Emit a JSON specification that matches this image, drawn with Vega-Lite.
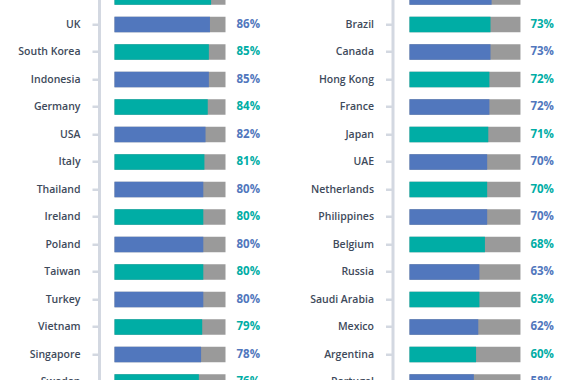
{
  "$schema": "https://vega.github.io/schema/vega-lite/v6.json",
  "background": "#ffffff",
  "padding": {"left": 17, "top": -16.75, "right": 0, "bottom": 0},
  "config": {
    "view": {"stroke": null},
    "axisY": {
      "domainColor": "#d3d8e1", "domainWidth": 3, "tickColor": "#d3d8e1", "tickWidth": 2.5, "tickSize": 7,
      "labelPadding": 12, "labelFontSize": 10.5, "labelColor": "#3e4a5b", "labelFont": "Open Sans", "labelFontWeight": 600,
      "title": null, "grid": false, "bandPosition": 0.5
    }
  },
  "data": {"values": [
    {"side": "L", "country": "India", "share": 0.87, "group": "A"},
    {"side": "L", "country": "UK", "share": 0.86, "group": "B"},
    {"side": "L", "country": "South Korea", "share": 0.85, "group": "A"},
    {"side": "L", "country": "Indonesia", "share": 0.85, "group": "B"},
    {"side": "L", "country": "Germany", "share": 0.84, "group": "A"},
    {"side": "L", "country": "USA", "share": 0.82, "group": "B"},
    {"side": "L", "country": "Italy", "share": 0.81, "group": "A"},
    {"side": "L", "country": "Thailand", "share": 0.80, "group": "B"},
    {"side": "L", "country": "Ireland", "share": 0.80, "group": "A"},
    {"side": "L", "country": "Poland", "share": 0.80, "group": "B"},
    {"side": "L", "country": "Taiwan", "share": 0.80, "group": "A"},
    {"side": "L", "country": "Turkey", "share": 0.80, "group": "B"},
    {"side": "L", "country": "Vietnam", "share": 0.79, "group": "A"},
    {"side": "L", "country": "Singapore", "share": 0.78, "group": "B"},
    {"side": "L", "country": "Sweden", "share": 0.76, "group": "A"},
    {"side": "R", "country": "Australia", "share": 0.74, "group": "B"},
    {"side": "R", "country": "Brazil", "share": 0.73, "group": "A"},
    {"side": "R", "country": "Canada", "share": 0.73, "group": "B"},
    {"side": "R", "country": "Hong Kong", "share": 0.72, "group": "A"},
    {"side": "R", "country": "France", "share": 0.72, "group": "B"},
    {"side": "R", "country": "Japan", "share": 0.71, "group": "A"},
    {"side": "R", "country": "UAE", "share": 0.70, "group": "B"},
    {"side": "R", "country": "Netherlands", "share": 0.70, "group": "A"},
    {"side": "R", "country": "Philippines", "share": 0.70, "group": "B"},
    {"side": "R", "country": "Belgium", "share": 0.68, "group": "A"},
    {"side": "R", "country": "Russia", "share": 0.63, "group": "B"},
    {"side": "R", "country": "Saudi Arabia", "share": 0.63, "group": "A"},
    {"side": "R", "country": "Mexico", "share": 0.62, "group": "B"},
    {"side": "R", "country": "Argentina", "share": 0.60, "group": "A"},
    {"side": "R", "country": "Portugal", "share": 0.58, "group": "B"}
  ]},
  "bounds": "flush",
  "spacing": 93.5,
  "hconcat": [
    {
      "width": 200,
      "height": 412.5,
      "transform": [{"filter": "datum.side === 'L'"}],
      "encoding": {
        "y": {"field": "country", "type": "nominal", "sort": null,
              "scale": {"paddingInner": 0.436, "paddingOuter": 0.218}}
      },
      "layer": [
        {"mark": {"type": "bar", "color": "#9a9a9a"},
         "encoding": {"x": {"datum": 1, "type": "quantitative", "scale": {"domain": [-0.1396, 1.662], "nice": false, "zero": false}, "axis": null}}},
        {"mark": {"type": "bar"},
         "encoding": {"x": {"field": "share", "type": "quantitative", "stack": null},
                      "color": {"field": "group", "type": "nominal", "scale": {"domain": ["A", "B"], "range": ["#00ada5", "#5177bd"]}, "legend": null}}},
        {"mark": {"type": "text", "align": "left", "baseline": "middle", "dx": 11, "font": "Open Sans", "fontSize": 11.5, "fontWeight": 700},
         "encoding": {"x": {"datum": 1, "type": "quantitative"}, "text": {"field": "share", "type": "quantitative", "format": ".0%"},
                      "color": {"field": "group", "type": "nominal", "scale": {"domain": ["A", "B"], "range": ["#00ada5", "#5177bd"]}, "legend": null}}}
      ]
    },
    {
      "width": 190,
      "height": 412.5,
      "transform": [{"filter": "datum.side === 'R'"}],
      "encoding": {
        "y": {"field": "country", "type": "nominal", "sort": null,
              "scale": {"paddingInner": 0.436, "paddingOuter": 0.218}}
      },
      "layer": [
        {"mark": {"type": "bar", "color": "#9a9a9a"},
         "encoding": {"x": {"datum": 1, "type": "quantitative", "scale": {"domain": [-0.153, 1.559], "nice": false, "zero": false}, "axis": null}}},
        {"mark": {"type": "bar"},
         "encoding": {"x": {"field": "share", "type": "quantitative", "stack": null},
                      "color": {"field": "group", "type": "nominal", "scale": {"domain": ["A", "B"], "range": ["#00ada5", "#5177bd"]}, "legend": null}}},
        {"mark": {"type": "text", "align": "left", "baseline": "middle", "dx": 10, "font": "Open Sans", "fontSize": 11.5, "fontWeight": 700},
         "encoding": {"x": {"datum": 1, "type": "quantitative"}, "text": {"field": "share", "type": "quantitative", "format": ".0%"},
                      "color": {"field": "group", "type": "nominal", "scale": {"domain": ["A", "B"], "range": ["#00ada5", "#5177bd"]}, "legend": null}}}
      ]
    }
  ]
}
